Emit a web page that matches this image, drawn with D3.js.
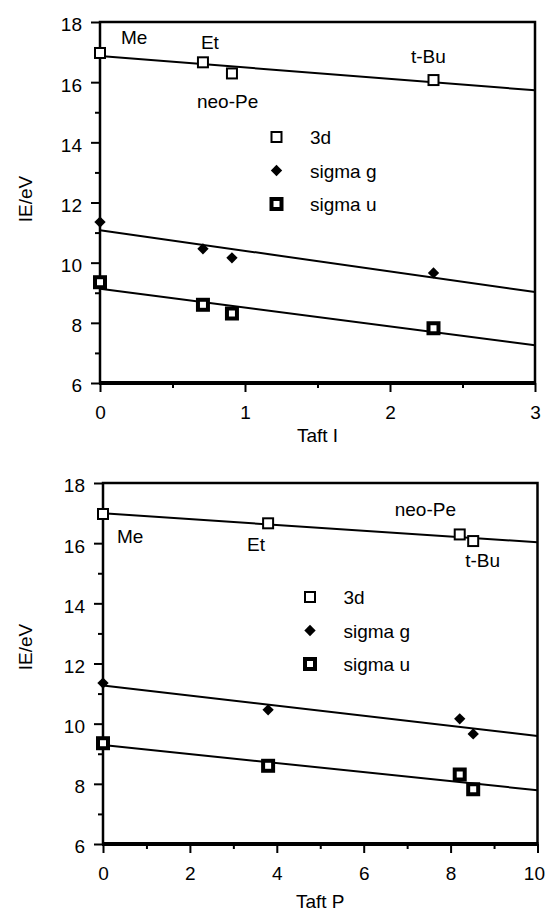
<html>
<head>
<title>IE vs Taft parameters</title>
<script type="text/javascript" src="https://cdn.jsdelivr.net/npm/d3@7/dist/d3.min.js"></script>
<style>
  body { margin: 0; background: #fff; }
  text { font-family: "Liberation Sans", Arial, Helvetica, sans-serif; font-size: 19px; fill: #000; }
</style>
</head>
<body>
<script type="text/javascript">

// substituents and their Taft parameters
var substituents = ["Me", "Et", "neo-Pe", "t-Bu"];
var taftI = [0, 0.71, 0.91, 2.30];
var taftP = [0, 3.80, 8.21, 8.52];

// ionization energies (eV)
var ie3d = [16.97, 16.66, 16.29, 16.07];
var ieSigmaG = [11.35, 10.46, 10.16, 9.66];
var ieSigmaU = [9.35, 8.60, 8.31, 7.82];

var seriesNames = ["3d", "sigma g", "sigma u"];
var seriesValues = [ie3d, ieSigmaG, ieSigmaU];

var yTicks = [6, 8, 10, 12, 14, 16, 18];
var yMinorTicks = [7, 9, 11, 13, 15, 17];

var panels = [
  { xs: taftI, xDomain: [0, 3], xTicks: [0, 1, 2, 3], xMinorTicks: [0.5, 1.5, 2.5], xTitle: "Taft I",
    left: 100, right: 535, top: 22, bottom: 383, xTitleY: 442, yTitleY: 199,
    legendX: 276.5, legendY: 137,
    labelOffsets: [[21, -9], [-2, -13], [-35, 35], [-22.5, -17]] },
  { xs: taftP, xDomain: [0, 10], xTicks: [0, 2, 4, 6, 8, 10], xMinorTicks: [1, 3, 5, 7, 9], xTitle: "Taft P",
    left: 103, right: 537.5, top: 483, bottom: 844, xTitleY: 908, yTitleY: 647,
    legendX: 310, legendY: 597,
    labelOffsets: [[14, 29], [-21, 28], [-65, -18], [-8, 26]] }
];

var pageWidth = 547;

//least squares fit, like the spreadsheet trendline
function linearFit(xs, ys) {
  var mx = d3.mean(xs), my = d3.mean(ys);
  var sxy = d3.sum(xs, function(x, i) { return (x - mx) * (ys[i] - my); });
  var sxx = d3.sum(xs, function(x) { return (x - mx) * (x - mx); });
  var slope = sxy / sxx;
  return function(x) { return my + slope * (x - mx); };
}

// marker painters, one per series
function drawMarker(g, seriesIndex, cx, cy) {
  if (seriesIndex == 0) {
    g.append("rect").attr("x", cx - 5).attr("y", cy - 5).attr("width", 10).attr("height", 10)
      .attr("fill", "#fff").attr("stroke", "#000").attr("stroke-width", 2);
  } else if (seriesIndex == 1) {
    g.append("path").attr("d", d3.symbol().type(d3.symbolSquare).size(64)())
      .attr("transform", "translate(" + cx + "," + cy + ") rotate(45)")
      .attr("fill", "#000");
  } else {
    g.append("rect").attr("x", cx - 5).attr("y", cy - 5).attr("width", 10).attr("height", 10)
      .attr("fill", "#fff").attr("stroke", "#000").attr("stroke-width", 4);
  }
}

var svg = d3.select("body").append("svg").attr("width", pageWidth).attr("height", 912);

panels.forEach(function(p) {
  var x = d3.scaleLinear().domain(p.xDomain).range([p.left, p.right]);
  var y = d3.scaleLinear().domain([6, 18]).range([p.bottom, p.top]);
  var g = svg.append("g");

  // y axis, major + minor ticks
  var yAxis = g.append("g").attr("transform", "translate(" + p.left + ",0)")
    .call(d3.axisLeft(y).tickValues(yTicks).tickSize(9).tickPadding(9).tickSizeOuter(0));
  yAxis.select(".domain").remove();
  yAxis.selectAll("line").attr("stroke-width", 2);
  yAxis.selectAll("text").attr("dy", "0.47em").style("font-size", "19px").attr("font-family", null);

  var yMinor = g.append("g").attr("transform", "translate(" + p.left + ",0)")
    .call(d3.axisLeft(y).tickValues(yMinorTicks).tickSize(5).tickFormat(""));
  yMinor.select(".domain").remove();
  yMinor.selectAll("line").attr("stroke-width", 2);

  // x axis
  var xAxis = g.append("g").attr("transform", "translate(0," + p.bottom + ")")
    .call(d3.axisBottom(x).tickValues(p.xTicks).tickSize(9).tickFormat(d3.format("d")));
  xAxis.select(".domain").remove();
  xAxis.selectAll("line").attr("stroke-width", 2);
  xAxis.selectAll("text").attr("y", 36).attr("dy", null).style("font-size", "19px").attr("font-family", null);
  //keep the last label inside the page
  xAxis.selectAll(".tick").each(function() {
    var t = d3.select(this).select("text");
    var box = this.getBoundingClientRect();
    var over = box.right - (pageWidth - 2);
    if (over > 0) t.attr("dx", -over);
  });

  var xMinor = g.append("g").attr("transform", "translate(0," + p.bottom + ")")
    .call(d3.axisBottom(x).tickValues(p.xMinorTicks).tickSize(5).tickFormat(""));
  xMinor.select(".domain").remove();
  xMinor.selectAll("line").attr("stroke-width", 2);

  // frame: thin left/top/right, heavy bottom
  g.append("path")
    .attr("d", "M" + p.left + "," + p.bottom + "V" + p.top + "H" + p.right + "V" + p.bottom)
    .attr("fill", "none").attr("stroke", "#000").attr("stroke-width", 2.5);
  g.append("line").attr("x1", p.left - 1).attr("x2", p.right + 1).attr("y1", p.bottom).attr("y2", p.bottom)
    .attr("stroke", "#000").attr("stroke-width", 4);

  // trend lines
  seriesValues.forEach(function(vals) {
    var f = linearFit(p.xs, vals);
    g.append("line")
      .attr("x1", x(p.xDomain[0])).attr("y1", y(f(p.xDomain[0])))
      .attr("x2", x(p.xDomain[1])).attr("y2", y(f(p.xDomain[1])))
      .attr("stroke", "#000").attr("stroke-width", 2);
  });

  // points
  seriesValues.forEach(function(vals, si) {
    vals.forEach(function(v, i) { drawMarker(g, si, x(p.xs[i]), y(v)); });
  });

  // substituent labels next to 3d points
  substituents.forEach(function(name, i) {
    g.append("text")
      .attr("x", x(p.xs[i]) + p.labelOffsets[i][0])
      .attr("y", y(ie3d[i]) + p.labelOffsets[i][1])
      .text(name);
  });

  // legend
  seriesNames.forEach(function(name, si) {
    var ly = p.legendY + si * 33.5;
    drawMarker(g, si, p.legendX, ly);
    g.append("text").attr("x", p.legendX + 33.5).attr("y", ly + 7).text(name);
  });

  // axis titles
  g.append("text").attr("x", (p.left + p.right) / 2).attr("y", p.xTitleY)
    .attr("text-anchor", "middle").text(p.xTitle);
  g.append("text").attr("transform", "translate(32," + p.yTitleY + ") rotate(-90)")
    .attr("text-anchor", "middle").text("IE/eV");
});

</script>
</body>
</html>
